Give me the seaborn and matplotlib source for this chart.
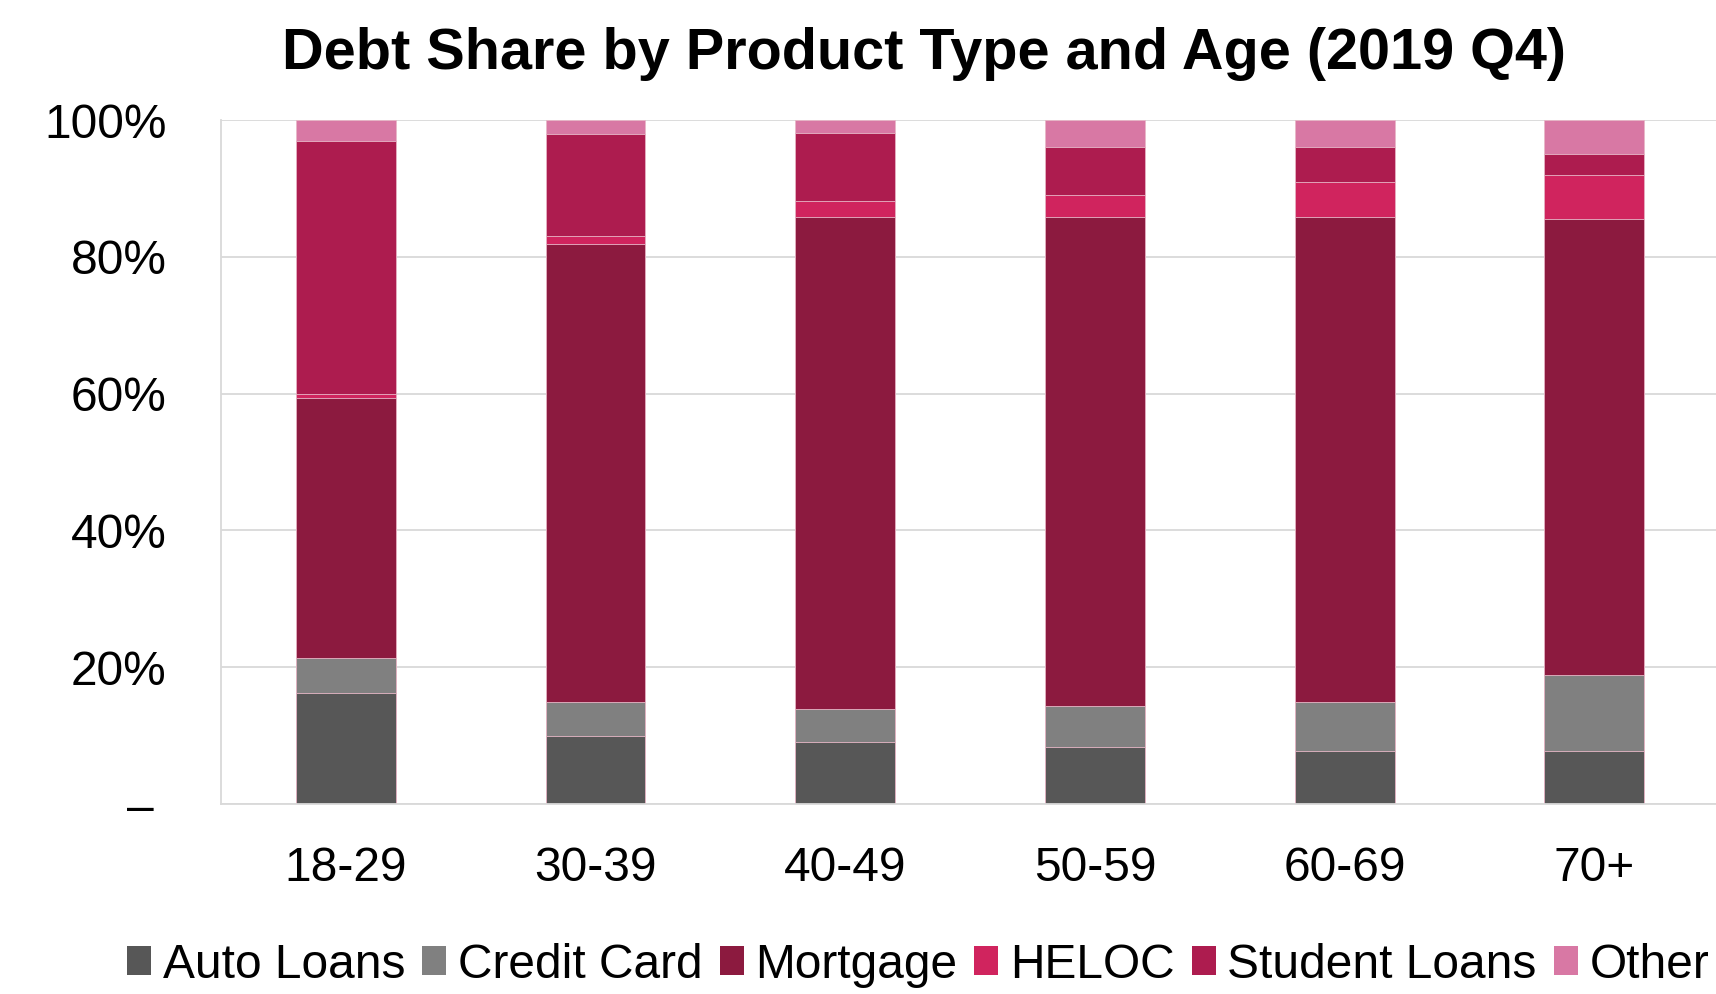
import matplotlib
matplotlib.use("Agg")
import matplotlib.pyplot as plt
from matplotlib.patches import Patch
import numpy as np
import pandas as pd
import seaborn as sns

# Dados (participacao % da divida por faixa etaria, 2019 Q4)
ages = ["18-29", "30-39", "40-49", "50-59", "60-69", "70+"]
auto_loans = [16.3, 9.9, 9.0, 8.4, 7.8, 7.8]
credit_card = [5.1, 5.0, 4.9, 5.9, 7.1, 11.1]
mortgage = [38.0, 67.0, 72.0, 71.5, 70.9, 66.6]
heloc = [0.6, 1.1, 2.3, 3.2, 5.1, 6.4]
student_loans = [37.0, 15.0, 9.9, 7.0, 5.1, 3.1]
other = [3.0, 2.0, 1.9, 4.0, 4.0, 5.0]

products = ["Auto Loans", "Credit Card", "Mortgage", "HELOC", "Student Loans", "Other"]
colors = ["#575757", "#808080", "#8C1A3F", "#D0245E", "#AD1C4F", "#D878A4"]

df = pd.DataFrame({
    "Age": ages,
    "Auto Loans": auto_loans,
    "Credit Card": credit_card,
    "Mortgage": mortgage,
    "HELOC": heloc,
    "Student Loans": student_loans,
    "Other": other,
})
cum = df[products].cumsum(axis=1)
cum["Age"] = df["Age"]

sns.set_style("white")
plt.rcParams["font.family"] = ["Liberation Sans", "DejaVu Sans"]
plt.rcParams["text.color"] = "black"
plt.rcParams["xtick.color"] = "black"
plt.rcParams["ytick.color"] = "black"

fig = plt.figure(figsize=(17.16, 9.94), dpi=100)
ax = fig.add_axes([0.1288, 0.1911, 0.873, 0.6881])

# barras empilhadas: desenha do total acumulado para baixo
for prod, col in reversed(list(zip(products, colors))):
    sns.barplot(data=cum, x="Age", y=prod, color=col, width=0.4,
                edgecolor="#E8B8C8", linewidth=0.6, saturation=1, ax=ax)

ax.set_xlim(-0.5, 5.5)
ax.set_ylim(0, 100)
ax.set_yticks([0, 20, 40, 60, 80, 100])
ax.set_yticklabels(["– ", "20%", "40%", "60%", "80%", "100%"])
ax.set_xlabel("")
ax.set_ylabel("")
ax.tick_params(axis="y", length=0, pad=39, labelsize=34.5, labelcolor="black")
ax.tick_params(axis="x", length=0, pad=30, labelsize=34.5, labelcolor="black")
ax.set_axisbelow(True)
ax.yaxis.grid(True, color="#D9D9D9", linewidth=1.3)
for s in ["top", "right"]:
    ax.spines[s].set_visible(False)
for s in ["left", "bottom"]:
    ax.spines[s].set_color("#D9D9D9")
    ax.spines[s].set_linewidth(1.3)

fig.text(0.5385, 0.946, "Debt Share by Product Type and Age (2019 Q4)",
         ha="center", va="center", fontsize=41.5, fontweight="bold", color="black")

handles = [Patch(facecolor=c, edgecolor="none", label=p) for p, c in zip(products, colors)]
fig.legend(handles=handles, loc="center", bbox_to_anchor=(0.535, 0.029), ncol=6,
           frameon=False, fontsize=34.5, handlelength=0.5, handleheight=0.55,
           handletextpad=0.24, columnspacing=0.36, labelcolor="black",
           borderpad=0.1, borderaxespad=0.1)

fig.savefig("out.png", dpi=100, facecolor="white")
